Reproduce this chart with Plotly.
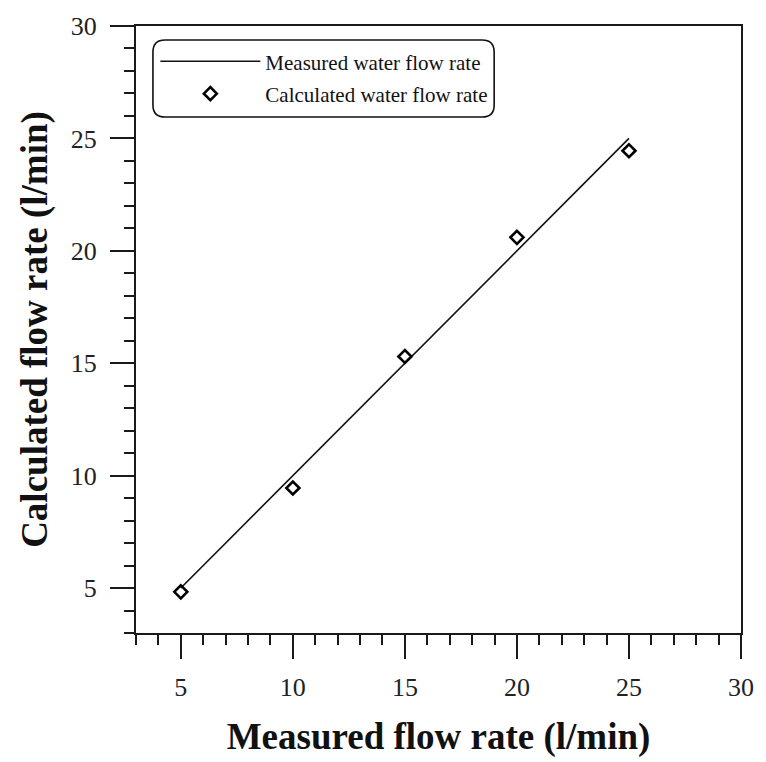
import plotly.graph_objects as go

# Flow rates (l/min)
measured = [5, 10, 15, 20, 25]
calculated = [4.83, 9.45, 15.3, 20.6, 24.45]

series_names = ["Measured water flow rate", "Calculated water flow rate"]
x_title = "Measured flow rate (l/min)"
y_title = "Calculated flow rate (l/min)"

fig = go.Figure()

# reference line: measured vs measured
fig.add_trace(go.Scatter(
    x=measured, y=measured, mode="lines", name=series_names[0],
    legendgroup="a",
    line=dict(color="#111111", width=1.6),
))

# calculated values
fig.add_trace(go.Scatter(
    x=measured, y=calculated, mode="markers", name=series_names[1],
    legendgroup="b",
    marker=dict(symbol="diamond-open", size=10, color="#000000",
                line=dict(width=2.6, color="#000000")),
))

axis_common = dict(
    range=[3, 30], dtick=5, tick0=0,
    showline=True, linecolor="#1a1a1a", linewidth=2, mirror=True,
    ticks="outside", ticklen=24, tickwidth=2, tickcolor="#1a1a1a",
    minor=dict(dtick=1, ticks="outside", ticklen=10, tickwidth=2,
               tickcolor="#1a1a1a"),
    showgrid=False, zeroline=False,
    tickfont=dict(family="Liberation Serif", size=26, color="#222222"),
    title_font=dict(family="Liberation Serif", size=37, color="#111111"),
)

fig.update_xaxes(**axis_common, title_text="<b>" + x_title + "</b>",
                 title_standoff=22, ticklabelstandoff=6)
fig.update_yaxes(**axis_common, title_text="<b>" + y_title + "</b>",
                 title_standoff=12, ticklabelstandoff=8)

# rounded frame around the legend
x0, x1, y0, y1, r = 0.028, 0.592, 0.850, 0.977, 0.02
ry = r * 611 / 614
path = (f"M {x0 + r},{y1} L {x1 - r},{y1} Q {x1},{y1} {x1},{y1 - ry} "
        f"L {x1},{y0 + ry} Q {x1},{y0} {x1 - r},{y0} "
        f"L {x0 + r},{y0} Q {x0},{y0} {x0},{y0 + ry} "
        f"L {x0},{y1 - ry} Q {x0},{y1} {x0 + r},{y1} Z")
fig.add_shape(type="path", path=path, xref="paper", yref="paper",
              line=dict(color="#111111", width=1.6))

fig.update_layout(
    width=766, height=762,
    margin=dict(l=136, r=19, t=22, b=126),
    paper_bgcolor="white", plot_bgcolor="white",
    showlegend=True,
    legend=dict(
        x=0.032, y=0.975, xanchor="left", yanchor="top",
        bgcolor="rgba(0,0,0,0)", borderwidth=0,
        itemwidth=100, tracegroupgap=2,
        font=dict(family="Liberation Serif", size=21, color="#111111"),
    ),
)

fig.write_html("out.html")
